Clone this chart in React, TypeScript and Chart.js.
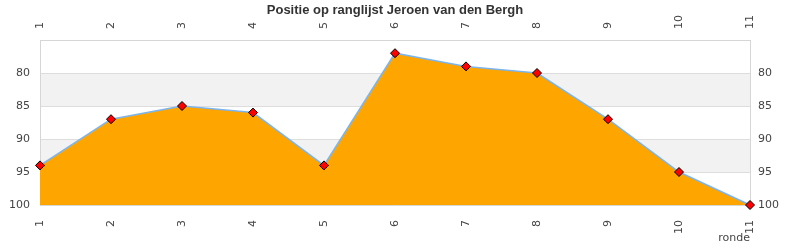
import React, { useEffect, useRef } from "react";
import { Chart, registerables } from "chart.js";

Chart.register(...registerables);

const rounds = ["1", "2", "3", "4", "5", "6", "7", "8", "9", "10", "11"];
const positions = [94, 87, 85, 86, 94, 77, 79, 80, 87, 95, 100];
const yTicks = [80, 85, 90, 95, 100];
const bands = [
  [80, 85],
  [90, 95],
];
const titleText = "Positie op ranglijst Jeroen van den Bergh";
const xTitle = "ronde";

const tickFont = { family: "'DejaVu Sans'", size: 11 };
const tickColor = "#444444";

const bandPlugin = {
  id: "bands",
  beforeDraw(chart: any) {
    const { ctx, chartArea, scales } = chart;
    const y = scales.y;
    ctx.save();
    ctx.fillStyle = "#f2f2f2";
    for (const [a, b] of bands) {
      const p1 = y.getPixelForValue(a);
      const p2 = y.getPixelForValue(b);
      ctx.fillRect(chartArea.left, Math.min(p1, p2), chartArea.right - chartArea.left, Math.abs(p2 - p1));
    }
    ctx.restore();
  },
};

// draws the rotated category labels of the top axis (read bottom-to-top)
const topLabelsPlugin = {
  id: "topLabels",
  afterDraw(chart: any) {
    const { ctx, scales, chartArea } = chart;
    const s = scales.x2;
    ctx.save();
    ctx.font = `${tickFont.size}px ${tickFont.family}`;
    ctx.fillStyle = tickColor;
    ctx.textAlign = "left";
    ctx.textBaseline = "middle";
    rounds.forEach((lab, i) => {
      const x = s.getPixelForValue(i);
      ctx.save();
      ctx.translate(x, chartArea.top - 11);
      ctx.rotate(-Math.PI / 2);
      ctx.fillText(lab, 0, 0);
      ctx.restore();
    });
    ctx.restore();
  },
};

export default function App() {
  const ref = useRef<HTMLCanvasElement | null>(null);
  useEffect(() => {
    if (!ref.current) return;
    const yAxisBase = (pos: "left" | "right", pad: number) => ({
      type: "linear" as const,
      position: pos,
      min: 75,
      max: 100,
      reverse: true,
      afterBuildTicks: (s: any) => {
        s.ticks = yTicks.map((v) => ({ value: v }));
      },
      afterFit: (s: any) => {
        s.width = 40;
      },
      ticks: { font: tickFont, color: tickColor, padding: pad },
      grid: { display: pos === "left", color: "#dddddd", drawTicks: false },
      border: { display: true, color: "#d6d6d6" },
    });
    const chart = new Chart(ref.current, {
      type: "line",
      data: {
        labels: rounds,
        datasets: [
          {
            data: positions,
            borderColor: "#7cb5ec",
            borderWidth: 1.5,
            backgroundColor: "#ffa500",
            fill: { value: 100 } as any,
            pointStyle: "rectRot",
            pointRadius: 4.5,
            pointBackgroundColor: "#ff0000",
            pointBorderColor: "#000000",
            pointBorderWidth: 1,
            tension: 0,
            clip: false as any,
            xAxisID: "x",
            yAxisID: "y",
          },
        ],
      },
      options: {
        animation: false,
        responsive: false,
        layout: { padding: 0 },
        plugins: {
          legend: { display: false },
          tooltip: { enabled: false },
          title: {
            display: true,
            text: titleText,
            color: "#333333",
            font: { family: "'Liberation Sans'", size: 13, weight: "bold" },
            padding: { top: 3, bottom: 5 },
          },
        },
        scales: {
          x: {
            type: "category",
            position: "bottom",
            offset: false,
            afterFit: (s: any) => {
              s.height = 45;
            },
            ticks: { font: tickFont, color: tickColor, minRotation: 90, maxRotation: 90, padding: 15, autoSkip: false },
            grid: { display: false, drawTicks: false },
            border: { display: true, color: "#d6d6d6" },
            title: {
              display: true,
              text: xTitle,
              align: "end",
              color: tickColor,
              font: tickFont,
              padding: { top: 0, bottom: 5 },
            },
          },
          x2: {
            type: "category",
            position: "top",
            offset: false,
            labels: rounds,
            afterFit: (s: any) => {
              s.height = 16.4;
            },
            ticks: { display: false },
            grid: { display: false, drawTicks: false },
            border: { display: true, color: "#d6d6d6" },
          },
          y: yAxisBase("left", 10),
          y2: yAxisBase("right", 8),
        } as any,
      },
      plugins: [bandPlugin, topLabelsPlugin],
    });
    return () => chart.destroy();
  }, []);
  return (
    <div style={{ position: "absolute", left: 0, top: 0, width: 790, height: 250, background: "#fff" }}>
      <canvas ref={ref} width={790} height={250} style={{ width: 790, height: 250, display: "block" }} />
    </div>
  );
}
